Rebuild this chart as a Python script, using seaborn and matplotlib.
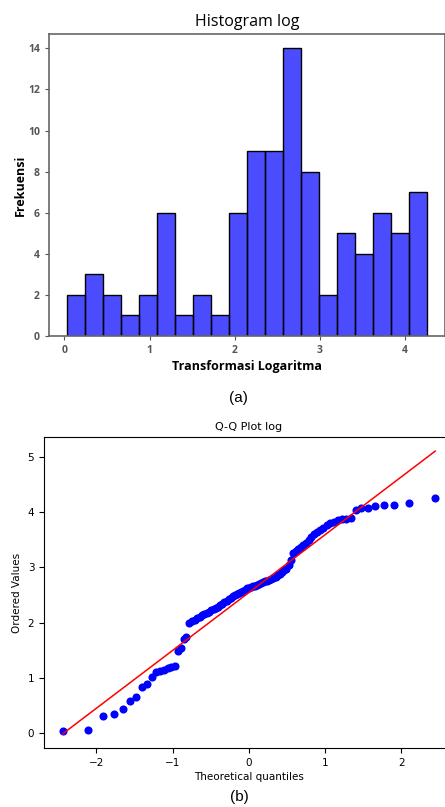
import numpy as np
import pandas as pd
import matplotlib
matplotlib.use("Agg")
import matplotlib.pyplot as plt
import seaborn as sns
from statistics import NormalDist

# nilai hasil transformasi log (sudah terurut)
nilai_log = [
    0.03, 0.06, 0.31, 0.35, 0.44, 0.57, 0.65, 0.84, 0.89, 1.01,
    1.11, 1.12, 1.14, 1.17, 1.20, 1.22, 1.49, 1.53, 1.70, 1.74,
    2.00, 2.02, 2.04, 2.08, 2.11, 2.13,
    2.16, 2.18, 2.20, 2.22, 2.24, 2.27, 2.29, 2.31, 2.34,
    2.37, 2.40, 2.43, 2.45, 2.48, 2.50, 2.52, 2.54, 2.56,
    2.58, 2.60, 2.62, 2.63, 2.64, 2.66, 2.67, 2.69, 2.70, 2.71, 2.73, 2.75, 2.76, 2.77,
    2.79, 2.81, 2.83, 2.86, 2.89, 2.92, 2.95, 2.98,
    3.05, 3.13,
    3.26, 3.30, 3.34, 3.37, 3.40,
    3.44, 3.50, 3.55, 3.60,
    3.64, 3.68, 3.72, 3.77, 3.80, 3.83,
    3.86, 3.87, 3.88, 3.89, 4.04,
    4.07, 4.08, 4.12, 4.13, 4.14, 4.17, 4.26,
]
jumlah_bin = 20

df = pd.DataFrame({"log": nilai_log})

fig = plt.figure(figsize=(4.45, 8.07), dpi=100)

# (a) Histogram
ax1 = fig.add_axes([0.110, 0.5837, 0.890, 0.3742])
sns.histplot(df["log"], bins=jumlah_bin, color="blue", alpha=0.7,
             edgecolor="black", linewidth=1.0, ax=ax1)
ax1.set_title("Histogram log", fontsize=11.5, family="Open Sans", pad=6)
ax1.set_xlabel("Transformasi Logaritma", fontsize=9, family="Open Sans",
               fontweight="bold", labelpad=3)
ax1.set_ylabel("Frekuensi", fontsize=9, family="Open Sans",
               fontweight="bold", labelpad=1)
ax1.set_yticks(range(0, 15, 2))
ax1.set_xticks(range(0, 5))
ax1.tick_params(labelsize=7.5, colors="#555555", length=3, width=0.8)
for lab in ax1.get_xticklabels() + ax1.get_yticklabels():
    lab.set_family("Open Sans")
    lab.set_fontweight("bold")
for sp in ax1.spines.values():
    sp.set_color("#666666")
    sp.set_linewidth(1.2)
fig.text(0.535, 1 - 398 / 807, "(a)", ha="center", va="center",
         fontsize=11, family="Liberation Sans")

# (b) Q-Q plot
n = len(nilai_log)
idx = np.arange(1, n + 1)
m = (idx - 0.3175) / (n + 0.365)
m[-1] = 0.5 ** (1.0 / n)
m[0] = 1 - m[-1]
teoritis = np.array([NormalDist().inv_cdf(p) for p in m])
urut = np.sort(np.array(nilai_log))
slope, intercept = np.polyfit(teoritis, urut, 1)

ax2 = fig.add_axes([0.0989, 0.0731, 0.921, 0.3854])
sns.scatterplot(x=teoritis, y=urut, color="blue", s=34, linewidth=0, ax=ax2)
ax2.plot(teoritis, slope * teoritis + intercept, color="red", lw=1.1)
ax2.set_title("Q-Q Plot log", fontsize=8, pad=5)
ax2.set_xlabel("Theoretical quantiles", fontsize=7.5, labelpad=3)
ax2.set_ylabel("Ordered Values", fontsize=7.5, labelpad=4)
ax2.set_xticks([-2, -1, 0, 1, 2])
ax2.set_yticks([0, 1, 2, 3, 4, 5])
ax2.tick_params(labelsize=7.5, length=3.5, width=0.8)
fig.text(0.537, 1 - 797 / 807, "(b)", ha="center", va="center",
         fontsize=11, family="Liberation Sans")

fig.savefig("out.png", dpi=100)
